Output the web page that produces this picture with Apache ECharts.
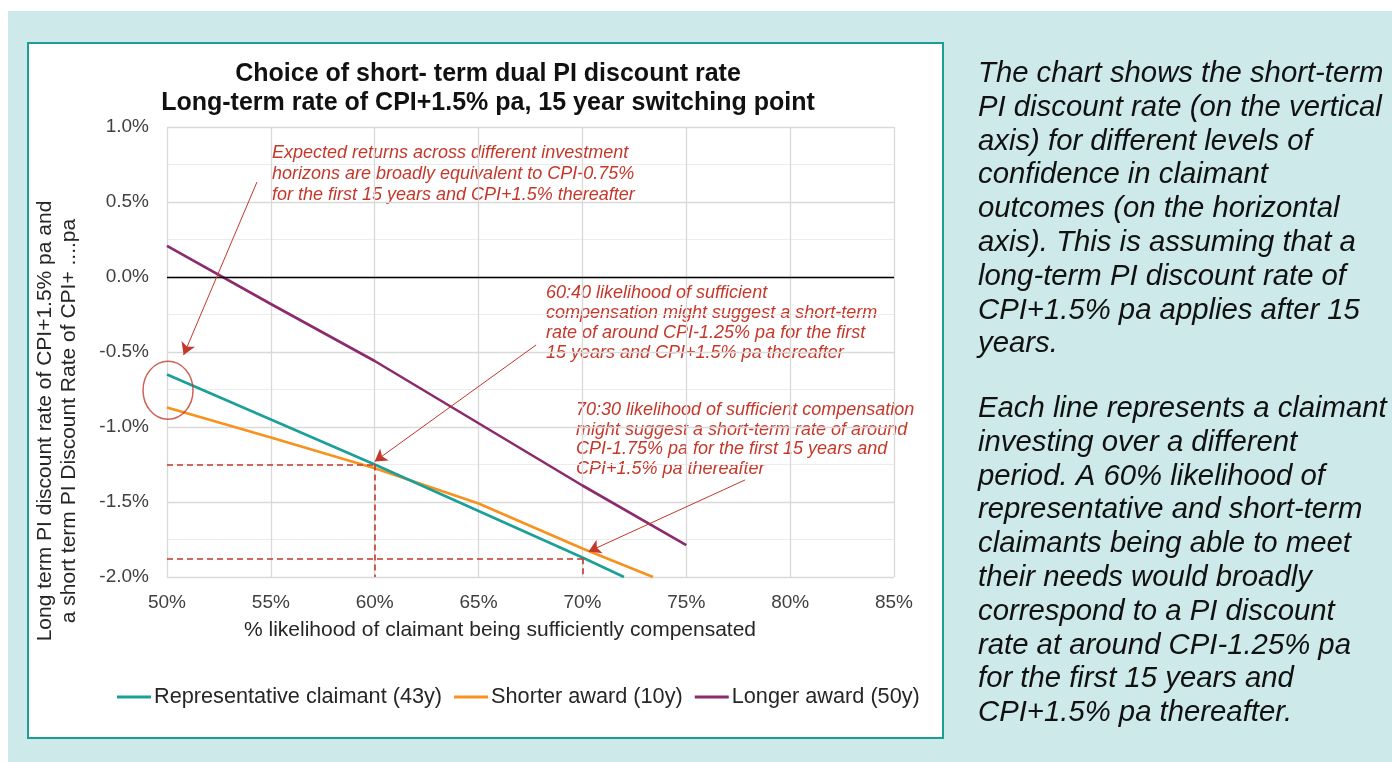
<!DOCTYPE html>
<html>
<head>
<meta charset="utf-8">
<script src="https://cdn.jsdelivr.net/npm/echarts@6/dist/echarts.min.js"></script>
<style>
html,body{margin:0;padding:0;background:#fff;}
#c{width:1392px;height:762px;}
</style>
</head>
<body>
<div id="c"></div>
<script>
// ---- data ----
const xTicks = [50, 55, 60, 65, 70, 75, 80, 85];
const seriesNames = ['Representative claimant (43y)', 'Shorter award (10y)', 'Longer award (50y)'];
const repX = [50, 55, 60, 65, 70, 72];
const repY = [-0.65, -0.95, -1.25, -1.56, -1.87, -2.0];
const shortX = [50, 55, 60, 65, 70, 73.4];
const shortY = [-0.87, -1.07, -1.275, -1.51, -1.81, -2.0];
const longX = [50, 55, 60, 65, 70, 75];
const longY = [0.207, -0.18, -0.56, -0.975, -1.39, -1.787];
const guide60 = [[50, -1.25], [60, -1.25], [60, -2.0]];
const guide70 = [[50, -1.875], [70, -1.875], [70, -2.0]];
const arrows = [
  [[54.33, 0.633], [50.8, -0.52]],
  [[67.77, -0.453], [60.0, -1.23]],
  [[77.83, -1.353], [70.3, -1.83]]
];
const circleAt = [50.05, -0.755];

const titleText = 'Choice of short- term dual PI discount rate\nLong-term rate of CPI+1.5% pa, 15 year switching point';
const yName = 'Long term PI discount rate of CPI+1.5% pa and\na short term PI Discount Rate of CPI+ ....pa';
const xName = '% likelihood of claimant being sufficiently compensated';
const note1 = 'Expected returns across different investment\nhorizons are broadly equivalent to CPI-0.75%\nfor the first 15 years and CPI+1.5% thereafter';
const note2 = '60:40 likelihood of sufficient\ncompensation might suggest a short-term\nrate of around CPI-1.25% pa for the first\n15 years and CPI+1.5% pa thereafter';
const note3 = '70:30 likelihood of sufficient compensation\nmight suggest a short-term rate of around\nCPI-1.75% pa for the first 15 years and\nCPI+1.5% pa thereafter';
const para1 = 'The chart shows the short-term\nPI discount rate (on the vertical\naxis) for different levels of\nconfidence in claimant\noutcomes (on the horizontal\naxis). This is assuming that a\nlong-term PI discount rate of\nCPI+1.5% pa applies after 15\nyears.';
const para2 = 'Each line represents a claimant\ninvesting over a different\nperiod. A 60% likelihood of\nrepresentative and short-term\nclaimants being able to meet\ntheir needs would broadly\ncorrespond to a PI discount\nrate at around CPI-1.25% pa\nfor the first 15 years and\nCPI+1.5% pa thereafter.';

const FONT = '"Liberation Sans", Arial, sans-serif';
const RED = '#c4382a';
const colors = ['#1a9f99', '#f7921e', '#8c2a6c'];

function pairs(xs, ys) { return xs.map((x, i) => [x, ys[i]]); }
function seg(a, b) { return [{coord: a}, {coord: b}]; }

const chart = echarts.init(document.getElementById('c'), null, {renderer: 'canvas'});
chart.setOption({
  backgroundColor: '#ffffff',
  animation: false,
  textStyle: {fontFamily: FONT},
  grid: {left: 167, right: 498, top: 127, bottom: 185, containLabel: false},
  xAxis: {
    type: 'value', min: xTicks[0], max: xTicks[xTicks.length - 1], interval: 5,
    axisLine: {show: false},
    axisTick: {show: false},
    axisLabel: {formatter: v => v + '%', fontSize: 19, color: '#404040', margin: 16, fontFamily: FONT},
    splitLine: {show: true, lineStyle: {color: '#d9d9d9', width: 1.3}}
  },
  yAxis: {
    type: 'value', min: -2, max: 1, interval: 0.5,
    axisLine: {show: false},
    axisTick: {show: false},
    axisLabel: {formatter: v => v.toFixed(1) + '%', fontSize: 19, color: '#404040', margin: 18, fontFamily: FONT},
    splitLine: {show: true, lineStyle: {color: '#d9d9d9', width: 1.3}},
    minorTick: {show: false, splitNumber: 2},
    minorSplitLine: {show: true, lineStyle: {color: '#ececec', width: 1.2}}
  },
  legend: {
    data: seriesNames,
    left: 117, top: 686,
    icon: 'rect', itemWidth: 34, itemHeight: 3, itemGap: 12, padding: 0,
    textStyle: {fontSize: 21.7, color: '#262626', fontFamily: FONT, padding: [0, 0, 0, -2]}
  },
  series: [
    {
      name: seriesNames[0], type: 'line', data: pairs(repX, repY), symbol: 'none',
      lineStyle: {color: colors[0], width: 2.6}, itemStyle: {color: colors[0]}, z: 4,
      markLine: {
        silent: true, symbol: ['none', 'none'], label: {show: false},
        lineStyle: {color: '#000', width: 1.3, type: 'solid'},
        data: [{yAxis: 0}]
      }
    },
    {
      name: seriesNames[1], type: 'line', data: pairs(shortX, shortY), symbol: 'none',
      lineStyle: {color: colors[1], width: 2.6}, itemStyle: {color: colors[1]}, z: 3,
      markLine: {
        silent: true, symbol: ['none', 'none'], label: {show: false},
        lineStyle: {color: RED, width: 1.6, type: [6, 4]},
        data: [seg(guide60[0], guide60[1]), seg(guide60[1], guide60[2]), seg(guide70[0], guide70[1]), seg(guide70[1], guide70[2])]
      }
    },
    {
      name: seriesNames[2], type: 'line', data: pairs(longX, longY), symbol: 'none',
      lineStyle: {color: colors[2], width: 2.6}, itemStyle: {color: colors[2]}, z: 3,
      markLine: {
        silent: true, symbol: ['none', 'arrow'], symbolSize: [11, 12], label: {show: false},
        lineStyle: {color: RED, width: 1, type: 'solid'},
        data: arrows.map(a => seg(a[0], a[1]))
      }
    },
    {
      name: 'circle', type: 'scatter', data: [circleAt], symbol: 'circle', symbolSize: [50, 58], clip: false,
      itemStyle: {color: 'rgba(0,0,0,0)', borderColor: RED, borderWidth: 1.6}, silent: true, z: 5
    }
  ],
  graphic: [
    {type: 'rect', z: -100, shape: {x: 8, y: 11, width: 1384, height: 751}, style: {fill: '#cde9e9'}},
    {type: 'rect', z: -99, shape: {x: 28, y: 43, width: 915, height: 695}, style: {fill: '#ffffff', stroke: '#1a9e96', lineWidth: 2}},
    {type: 'text', x: 488, y: 60, style: {text: titleText, font: 'bold 25px ' + FONT, fill: '#111', textAlign: 'center', lineHeight: 28.5}},
    {type: 'text', x: 57, y: 421, rotation: Math.PI / 2, style: {text: yName, font: '21px ' + FONT, fill: '#262626', textAlign: 'center', textVerticalAlign: 'middle', lineHeight: 23.5}},
    {type: 'text', x: 500, y: 630, style: {text: xName, font: '21px ' + FONT, fill: '#262626', textAlign: 'center', textVerticalAlign: 'middle'}},
    {type: 'text', x: 272, y: 143, style: {text: note1, font: 'italic 18px ' + FONT, fill: RED, lineHeight: 20.7}},
    {type: 'text', x: 546, y: 283, style: {text: note2, font: 'italic 18px ' + FONT, fill: RED, lineHeight: 20}},
    {type: 'text', x: 576, y: 400, style: {text: note3, font: 'italic 18px ' + FONT, fill: RED, lineHeight: 19.7}},
    {type: 'text', x: 978, y: 57, style: {text: para1, font: 'italic 29.3px ' + FONT, fill: '#111', lineHeight: 33.8}},
    {type: 'text', x: 978, y: 392, style: {text: para2, font: 'italic 29.3px ' + FONT, fill: '#111', lineHeight: 33.8}}
  ]
});
</script>
</body>
</html>
